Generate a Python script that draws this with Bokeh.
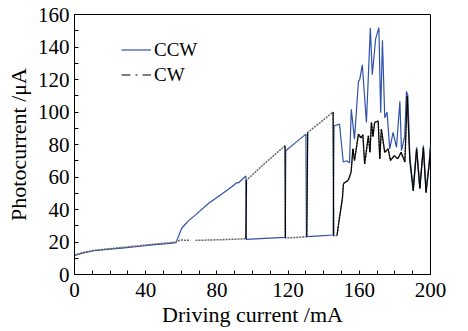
import numpy as np
from bokeh.plotting import figure
from bokeh.models import Range1d, FixedTicker, Legend, LegendItem
from bokeh.embed import file_html
from bokeh.resources import INLINE

# CCW sweep (blue)
ccw_x = [0, 5, 11, 20, 28, 37, 45, 52, 57, 60.3, 64, 68, 75.4, 83.2, 89.5, 91, 92, 96.3,
         96.5, 107, 118.4, 118.7, 124, 130, 130.3, 138, 145.3, 145.8, 148.9, 150, 151, 153, 154.5,
         155.5, 157.3, 159.5, 160.2, 161.7, 164, 165, 166.2, 167.3, 169.2, 171, 172, 173, 174.3,
         175.6, 177.1, 179, 180.9, 182.8, 183.7, 185.5, 186.5, 187.3, 188.4, 190.3, 192.2, 194,
         196, 197.5, 199.3, 200]
ccw_y = [11.7, 13.3, 14.6, 15.6, 16.4, 17.4, 18.4, 19.0, 19.6, 28.6, 33.0, 36.7, 43.8, 49.9, 54.9, 56.5, 56.3, 60.6,
         21.6, 22.2, 22.9, 76.2, 81.0, 86.4, 23.3, 23.8, 24.3, 91.4, 92.5, 80.0, 69.2, 70.0, 68.7,
         101.6, 83.3, 118.8, 119.8, 129.0, 93.5, 119.8, 151.9, 122.9, 145.2, 151.9, 99.6, 144.2, 96.5,
         99.9, 77.3, 87.4, 78.3, 106.6, 76.2, 85.0, 112.7, 110.0, 72.2, 52.9, 78.3, 54.0,
         79.3, 51.9, 69.2, 80.0]

# CW sweep (black, dash-dot)
cw_x = [0, 5, 11, 20, 28, 37, 45, 52, 57, 58, 60, 65, 65.5, 67.5, 68, 75, 85, 96.3,
        96.6, 107, 118.3, 118.5, 125, 130.5, 131, 138, 145.3, 145.6, 147.5, 148.2, 150.5, 151.1,
        153.8, 155.4, 156.4, 157.3, 158.5, 159.5, 161, 162, 163, 165.1, 166, 166.8, 167.7, 168.6,
        170.6, 171.5, 172.4, 174.3, 176.2, 177.5, 179.7, 181.6, 183.5, 185.6, 186.9, 188.4, 190.3,
        192.2, 194, 196, 197.5, 199.3, 200]
cw_y = [11.9, 13.6, 14.9, 15.9, 16.8, 17.8, 18.7, 19.4, 20.0, 20.8, 21.2, 21.0, np.nan, np.nan, 21.0, 21.2, 21.5, 22.0,
        58.0, 68.5, 79.3, 22.5, 22.8, 23.3, 87.4, 93.5, 100.0, 23.8, 24.0, 30.0, 46.8, 56.0,
        58.0, 63.0, 77.3, 70.2, 79.0, 86.4, 84.0, 86.0, 68.0, 85.3, 75.2, 93.5, 85.0, 93.5,
        94.5, 71.2, 89.4, 75.2, 77.3, 70.2, 73.1, 71.2, 75.2, 69.2, 109.7, 70.0, 51.5,
        77.0, 53.0, 78.0, 50.5, 68.0, 78.0]

x_ticks = [0, 40, 80, 120, 160, 200]
x_minor = [10, 20, 30, 50, 60, 70, 90, 100, 110, 130, 140, 150, 170, 180, 190]
y_ticks = [0, 20, 40, 60, 80, 100, 120, 140, 160]
y_minor = [10, 30, 50, 70, 90, 110, 130, 150]

FONT = "Liberation Serif"

p = figure(width=466, height=329, output_backend="svg", toolbar_location=None,
           x_range=Range1d(0, 200), y_range=Range1d(0, 160),
           min_border_left=74, min_border_right=36, min_border_top=14, min_border_bottom=52)
p.xgrid.visible = False
p.ygrid.visible = False
p.background_fill_color = "white"
p.border_fill_color = "white"
p.outline_line_color = "black"
p.outline_line_width = 1

blue = "#2f51ad"
r_ccw = p.line(ccw_x, ccw_y, line_color=blue, line_width=1.2)

# CW: beaded (dashed) look along the whole sweep, steep jumps and noisy part drawn solid
p.line(cw_x, cw_y, line_color="#666666", line_width=1.5, line_dash="2 1")
cx = np.array(cw_x, dtype=float)
cy = np.array(cw_y, dtype=float)
dx = np.diff(cx)
dy = np.diff(cy)
steep = (np.abs(dy) > 4 * np.maximum(dx, 1e-6)) | (cx[:-1] >= 147)
steep &= ~(np.isnan(cy[:-1]) | np.isnan(cy[1:]))
p.segment(x0=cx[:-1][steep], y0=cy[:-1][steep], x1=cx[1:][steep], y1=cy[1:][steep],
          line_color="black", line_width=1.1)

# legend-only glyph for the dash-dot CW symbol (placed outside the visible range)
leg_line = p.line([-20, -10], [-20, -20], line_color="black", line_width=1.2, line_dash="9 5 2 5")

legend = Legend(items=[LegendItem(label="CCW", renderers=[r_ccw]),
                       LegendItem(label="CW", renderers=[leg_line])],
                location=(47, 187), padding=0, margin=0, spacing=0,
                glyph_width=30, glyph_height=25, label_height=25, label_standoff=3,
                border_line_color=None, background_fill_alpha=0,
                label_text_font=FONT, label_text_font_size="19px", label_text_color="black")
p.add_layout(legend)

for ax, ticks, minor in ((p.xaxis[0], x_ticks, x_minor), (p.yaxis[0], y_ticks, y_minor)):
    ax.ticker = FixedTicker(ticks=ticks, minor_ticks=minor)
    ax.major_tick_in = 4
    ax.major_tick_out = 0
    ax.minor_tick_in = 4
    ax.minor_tick_out = 0
    ax.axis_line_color = "black"
    ax.major_tick_line_color = "black"
    ax.minor_tick_line_color = "black"
    ax.major_label_text_font = FONT
    ax.major_label_text_font_size = "21px"
    ax.major_label_text_color = "black"
    ax.axis_label_text_font = FONT
    ax.axis_label_text_font_size = "22px"
    ax.axis_label_text_font_style = "normal"
    ax.axis_label_text_color = "black"
    ax.major_label_standoff = 5

p.xaxis.major_label_standoff = 8
p.xaxis.axis_label = "Driving current /mA"
p.yaxis.axis_label = "Photocurrent /\u03bcA"
p.xaxis.axis_label_standoff = 2
p.yaxis.axis_label_standoff = 4

open("out.html", "w").write(file_html(p, INLINE))
